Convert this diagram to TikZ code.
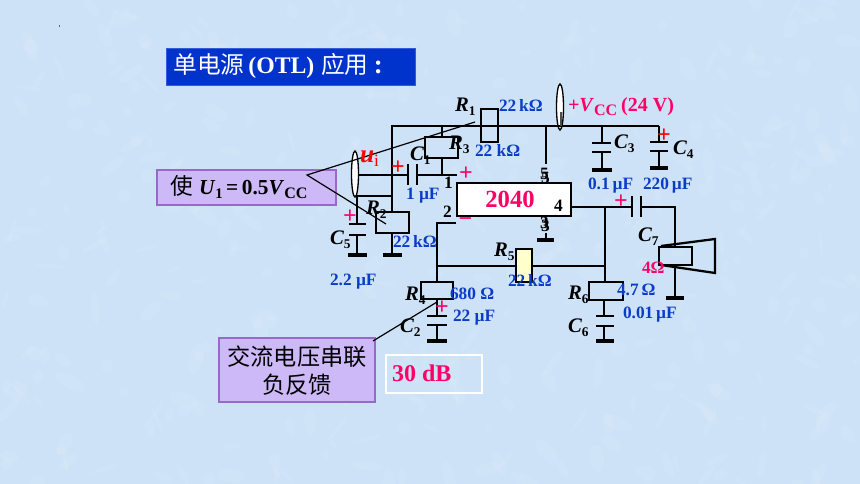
\documentclass[tikz,border=0pt]{standalone}
\usepackage{fontspec}
\setmainfont{Liberation Serif}
\newfontfamily\cjk{Noto Sans CJK SC}
\usetikzlibrary{shapes.geometric}
\definecolor{bgblue}{HTML}{CDE2F7}
\definecolor{titleblue}{HTML}{0033CC}
\definecolor{valblue}{HTML}{0A3CC8}
\definecolor{magentared}{HTML}{FF0066}
\definecolor{callfill}{HTML}{CDB9F7}
\definecolor{callline}{HTML}{9A68C8}
\definecolor{paleyellow}{HTML}{FFFFCC}
\newcommand{\sz}[1]{\fontsize{#1}{#1}\selectfont}
\newcommand{\sym}[2]{{\sz{15.5}\bfseries\itshape #1}\raisebox{-3pt}{\sz{10}\bfseries #2}}
\tikzset{
  x=0.75pt,y=-0.75pt,
  wire/.style={line width=1.5pt,line cap=butt},
  plate/.style={line width=2pt},
  gnd/.style={line width=2.7pt},
  res/.style 2 args={draw=black,line width=2pt,rectangle,inner sep=0pt,outer sep=0pt,minimum width=#1*0.75pt,minimum height=#2*0.75pt},
  probe/.style={draw=black,fill=white,line width=1pt,ellipse,inner sep=0pt,outer sep=0pt,minimum width=7*0.75pt,minimum height=46*0.75pt},
  lead/.style={line width=0.9pt,draw=black},
  lbl/.style={anchor=base west,inner sep=0pt,outer sep=0pt,font=\bfseries\sz{13}},
  val/.style={lbl,text=valblue},
  pin/.style={lbl,text=black},
  pls/.style={inner sep=0pt,outer sep=0pt,font=\bfseries\sz{18},text=magentared},
  rpls/.style={pls,text=red},
  callbox/.style={draw=callline,fill=callfill,line width=0.8pt,inner sep=0pt,outer sep=0pt}
}
\begin{document}
\begin{tikzpicture}
\useasboundingbox (0,0) rectangle (860,484);
% background
\begin{scope}
\clip (0,0) rectangle (860,484);
\fill[bgblue] (0,0) rectangle (860,484);
\pgfmathsetseed{11}
\foreach \i in {1,...,420}{
  \pgfmathsetmacro{\px}{random(0,860)}
  \pgfmathsetmacro{\py}{random(0,484)}
  \pgfmathsetmacro{\ra}{random(4,16)}
  \pgfmathsetmacro{\rb}{random(2,7)}
  \pgfmathsetmacro{\an}{random(0,180)}
  \fill[white,opacity=0.07,rotate around={\an:(\px,\py)}] (\px,\py) ellipse [x radius=\ra,y radius=\rb];
}
\end{scope}
\fill[black!60] (59,25.5) rectangle (59.8,27);
% title
\node[fill=titleblue,draw=titleblue!80!white,line width=0.5pt,inner sep=0pt,minimum width=249*0.75pt,minimum height=37*0.75pt] (title) at (291,66.5) {};
\node[anchor=west,inner sep=0pt,text=white,font=\sz{17.8}] (titletext) at (173,66) {{\cjk 单电源}\hspace{3pt}{\bfseries (OTL)}\hspace{5pt}{\cjk 应用}\hspace{4pt}{\bfseries\sz{20}:}};
% boxes
\node[res={17}{33}] (R1) at (489.5,125.5) {};
\node[res={33}{21}] (R3) at (441.5,147.5) {};
\node[res={33}{21}] (R2) at (392.5,222.5) {};
\node[res={32}{17}] (R4) at (437,290.5) {};
\node[res={34}{18}] (R6) at (606,291) {};
\node[res={16}{33},fill=paleyellow] (R5) at (524,265.5) {};
\node[res={114}{33},fill=white] (amp) at (514,199.5) {};
\node[probe] (uiprobe) at (355,174) {};
\node[probe] (vccprobe) at (560,107) {};
% named junctions and ends
\coordinate (railL) at (392,126);
\coordinate (railR) at (659,126);
\coordinate (n5) at (546,126);
\coordinate (n5e) at (546,164);
\coordinate (nR3) at (442,126);
\coordinate (inL) at (392,175);
\coordinate (inR) at (457,175);
\coordinate (nC1a) at (408,175);
\coordinate (nC1b) at (417,175);
\coordinate (n3a) at (442,175);
\coordinate (br) at (392,196);
\coordinate (brL) at (357,196);
\coordinate (c5a) at (357,224);
\coordinate (c5b) at (357,235);
\coordinate (c5g) at (357,255);
\coordinate (r2g) at (392,255);
\coordinate (p2a) at (456,223);
\coordinate (p2b) at (437,223);
\coordinate (fb) at (437,266);
\coordinate (fbR) at (605,266);
\coordinate (out) at (571,207);
\coordinate (outJ) at (605,207);
\coordinate (c7a) at (632,207);
\coordinate (c7b) at (641,207);
\coordinate (c7R) at (675,207);
\coordinate (spk) at (675,246);
\coordinate (spkb) at (675,265);
\coordinate (spkg) at (675,298);
\coordinate (p3) at (546,233);
\coordinate (p3g) at (546,240);
% wires
\draw[wire] (railL) -- (railR);
\draw[wire,line cap=rect] (railL) -- (inL) -- (br) -- (R2.north -| br);
\draw[wire] (n5) -- (n5e);
\draw[wire] (nR3) -- (nR3 |- R3.north);
\draw[wire] (n3a |- R3.south) -- (n3a);
\draw[wire] (uiprobe.east |- inL) -- (nC1a);
\draw[wire] (nC1b) -- (inR);
\draw[wire] (br) -- (brL) -- (c5a);
\draw[wire] (c5b) -- (c5g);
\draw[wire] (392,233) -- (r2g);
\draw[wire] (p2a) -- (p2b) -- (p2b |- R4.north);
\draw[wire] (fb) -- (R5.west |- fb);
\draw[wire] (R5.east |- fb) -- (fbR);
\draw[wire] (out) -- (c7a);
\draw[wire] (c7b) -- (c7R) -- (spk);
\draw[wire] (outJ) -- (outJ |- R6.north);
\draw[wire] (spkb) -- (spkg);
\draw[wire] (p3) -- (p3g);
\draw[wire] (R4.south) -- (437,316) (437,325) -- (437,341);
\draw[wire] (604,300) -- (604,316) (604,326) -- (604,341);
\draw[wire] (602,126) -- (602,143) (602,152) -- (602,170);
\draw[wire] (659,126) -- (659,142) (659,151) -- (659,168);
% capacitor plates
\draw[plate] (408,164) -- (408,185) (417,164) -- (417,185);
\draw[plate] (349,224) -- (366,224) (349,235) -- (366,235);
\draw[plate] (427,316) -- (447,316) (427,325) -- (447,325);
\draw[plate] (596,316) -- (614,316) (596,326) -- (614,326);
\draw[plate] (592,143) -- (611,143) (592,152) -- (611,152);
\draw[plate] (650,142) -- (668,142) (650,151) -- (668,151);
\draw[plate] (632,196) -- (632,217) (641,196) -- (641,217);
% ground bars
\draw[gnd] (348,255) -- (367,255) (383,255) -- (402,255);
\draw[gnd] (427,341) -- (447,341) (596,341) -- (614,341);
\draw[gnd] (592,170) -- (612,170) (650,168) -- (668,168);
\draw[gnd] (537,240) -- (554,240) (666,298) -- (684,298);
% speaker
\node[res={33}{18}] (spkbox) at (675.5,256) {};
\draw[line width=1.7pt,line join=miter] (661,246) -- (715,239) -- (715,273) -- (661,265);
\draw[line width=0.9pt,black!70] (561,112) -- (561,126);
% callouts
\node[callbox,minimum width=179*0.75pt,minimum height=35*0.75pt] (call1) at (246.5,187.5) {};
\node[callbox,minimum width=156*0.75pt,minimum height=64*0.75pt] (call2) at (297,370) {};
\coordinate (tip1a) at (307,175);
\coordinate (tipR1) at (475,122);
\coordinate (tipR2) at (386,224);
\coordinate (tip2a) at (373,341);
\coordinate (tipR4) at (437,302);
\draw[lead] (tipR1) -- (tip1a) -- (tipR2);
\draw[lead] (tip2a) -- (tipR4);
\node[anchor=base west,inner sep=0pt,font=\bfseries\sz{16}] (t1) at (165,195) {{\cjk\mdseries\sz{17} 使}\hspace{4.5pt}\textit{U}\raisebox{-3pt}{\sz{11}1}\,=\,0.5\textit{V}\raisebox{-3pt}{\sz{12}CC}};
\node[inner sep=0pt,font=\cjk\sz{17.4}] (t2) at (297,357) {交流电压串联};
\node[inner sep=0pt,font=\cjk\sz{17.4}] (t3) at (297,385) {负反馈};
\node[draw=white,line width=0.8pt,inner sep=0pt,minimum width=96*0.75pt,minimum height=38*0.75pt] (dbbox) at (434,374) {};
\node[lbl,text=magentared,font=\bfseries\sz{18}] (db) at (392,382) {30 dB};
% component labels
\node[lbl] (lR1) at (455,112) {\sym{R}{1}};
\node[lbl] (lR3) at (449,150) {\sym{R}{3}};
\node[lbl] (lR2) at (366,215) {\sym{R}{2}};
\node[lbl] (lR5) at (494,257) {\sym{R}{5}};
\node[lbl] (lR4) at (405,301) {\sym{R}{4}};
\node[lbl] (lR6) at (568,300) {\sym{R}{6}};
\node[lbl] (lC1) at (410,161) {\sym{C}{1}};
\node[lbl] (lC2) at (400,333) {\sym{C}{2}};
\node[lbl] (lC3) at (614,149) {\sym{C}{3}};
\node[lbl] (lC4) at (673,155) {\sym{C}{4}};
\node[lbl] (lC5) at (330,245) {\sym{C}{5}};
\node[lbl] (lC6) at (568,333) {\sym{C}{6}};
\node[lbl] (lC7) at (638,242) {\sym{C}{7}};
\node[lbl,text=red] (lui) at (360,163) {{\sz{19}\bfseries\itshape u}\raisebox{-3pt}{\sz{13}\mdseries i}};
% values
\node[val] at (499,112) {22\,kΩ};
\node[val] at (475,157) {22 kΩ};
\node[val] at (393,248) {22\,kΩ};
\node[val] at (508,287) {22\,kΩ};
\node[val] at (450,300) {680 Ω};
\node[val] at (617,296) {4.7\,Ω};
\node[val] at (406,200) {1 µF};
\node[val] at (330,286) {2.2 µF};
\node[val] at (453,322) {22 µF};
\node[val] at (588,190) {0.1\,µF};
\node[val] at (643,190) {220\,µF};
\node[val] at (623,319) {0.01\,µF};
\node[lbl,text=magentared] at (642,274) {4Ω};
\node[lbl,text=magentared,font=\bfseries\sz{15}] (vcc) at (568,112) {+\textit{V}\raisebox{-3pt}{\sz{12}CC}\hspace{3pt}(24 V)};
% pins
\node[inner sep=0pt,text=magentared,font=\bfseries\sz{18.5}] (ampname) at (510,199) {2040};
\node[pin] at (554,212) {4};
\node[pin] at (443,218) {2};
\node[pin] at (444,189) {1};
\node[pin] at (540,180) {5};
\node[pin] at (541,184) {5};
\node[pin] at (540,229) {3};
\node[pin] at (541,232) {3};
% polarity marks
\node[rpls] at (398,168) {+};
\node[pls] at (466,174) {+};
\node[rpls] at (664,135.5) {+};
\node[pls] at (621,201.5) {+};
\node[pls] at (350,217) {+};
\node[pls] at (442,308) {+};
\node[pls] at (465.5,222) {−};
\end{tikzpicture}
\end{document}
